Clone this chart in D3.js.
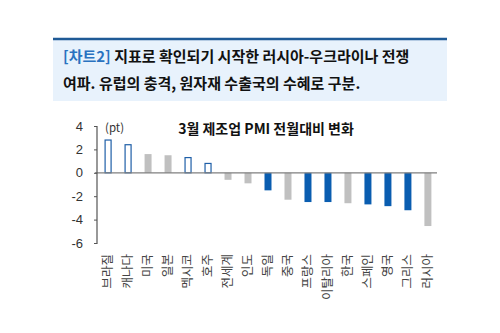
<!DOCTYPE html>
<html><head><meta charset="utf-8">
<script src="https://cdn.jsdelivr.net/npm/d3@7"></script>
<style>body{margin:0;background:#fff;}svg{display:block;font-family:"Noto Sans CJK KR","Noto Sans",sans-serif;}</style>
</head><body>
<svg id="c" width="500" height="333"></svg>
<script>
const categories = ["브라질","캐나다","미국","일본","멕시코","호주","전세계","인도","독일","중국","프랑스","이탈리아","한국","스페인","영국","그리스","러시아"];
const values = [2.8, 2.4, 1.6, 1.5, 1.3, 0.8, -0.6, -0.9, -1.5, -2.3, -2.5, -2.5, -2.6, -2.7, -2.85, -3.2, -4.55];
const groups = ["o","o","g","g","o","o","g","g","b","g","b","b","g","b","b","b","g"];
const yTicks = [4, 2, 0, -2, -4, -6];
const titleLine1 = "지표로 확인되기 시작한 러시아-우크라이나 전쟁";
const titleLine2 = "여파. 유럽의 충격, 원자재 수출국의 수혜로 구분.";

const svg = d3.select("#c");
// header box
svg.append("rect").attr("x",53).attr("y",39).attr("width",394).attr("height",62).attr("fill","#e8f2fc");
svg.append("line").attr("x1",53).attr("x2",447).attr("y1",39).attr("y2",39).attr("stroke","#1f5a96").attr("stroke-width",2.5);
const t1 = svg.append("text").attr("x",63).attr("y",62).attr("font-size",15).attr("font-weight","bold").attr("fill","#111");
t1.append("tspan").attr("fill","#2a72c0").text("[차트2] ");
t1.append("tspan").text(titleLine1);
svg.append("text").attr("x",63).attr("y",89).attr("font-size",15).attr("font-weight","bold").attr("fill","#111").text(titleLine2);

const x = d3.scaleBand().domain(categories).range([98,438]).paddingInner(0.65).paddingOuter(0.33);
const y = d3.scaleLinear().domain([-6,4]).range([243,126]);

const fill = {o:"#ffffff", g:"#c0c0c0", b:"#0a5db0"};
const stroke = {o:"#1f5fa8", g:"none", b:"none"};

svg.append("g").selectAll("rect").data(values).join("rect")
  .attr("x",(d,i)=>x(categories[i]) + (groups[i]==="o"?0.5:0))
  .attr("width",(d,i)=>x.bandwidth() - (groups[i]==="o"?1:0))
  .attr("y",d=>y(Math.max(0,d)))
  .attr("height",d=>Math.abs(y(d)-y(0)))
  .attr("fill",(d,i)=>fill[groups[i]])
  .attr("stroke",(d,i)=>stroke[groups[i]])
  .attr("stroke-width",1.2);

// zero line
svg.append("line").attr("x1",95).attr("x2",437).attr("y1",y(0)).attr("y2",y(0)).attr("stroke","#7f7f7f").attr("stroke-width",1.2);

// y axis
const ya = svg.append("g").attr("transform","translate(97,0)")
  .call(d3.axisLeft(y).tickValues(yTicks).tickSize(3).tickPadding(11).tickFormat(d=>String(d)));
ya.select(".domain").attr("stroke","#555").attr("stroke-width",1.2).attr("d","M-3,126.5H0V243.5H-3");
ya.selectAll(".tick line").attr("stroke","#555");
ya.selectAll("text").attr("font-size",13).attr("fill","#333").attr("font-family","'Liberation Sans','Noto Sans',sans-serif");

// category labels
svg.append("g").selectAll("text").data(categories).join("text")
  .attr("transform",d=>`translate(${x(d)+x.bandwidth()/2+4},${254}) rotate(-90)`)
  .attr("text-anchor","end")
  .attr("font-size",12.5).attr("fill","#444")
  .text(d=>d);

svg.append("text").attr("x",105).attr("y",132).attr("font-size",11.5).attr("fill","#333").text("(pt)");
svg.append("text").attr("x",266).attr("y",134).attr("text-anchor","middle").attr("font-size",14).attr("font-weight","bold").attr("fill","#111").text("3월 제조업 PMI 전월대비 변화");
</script>
</body></html>
